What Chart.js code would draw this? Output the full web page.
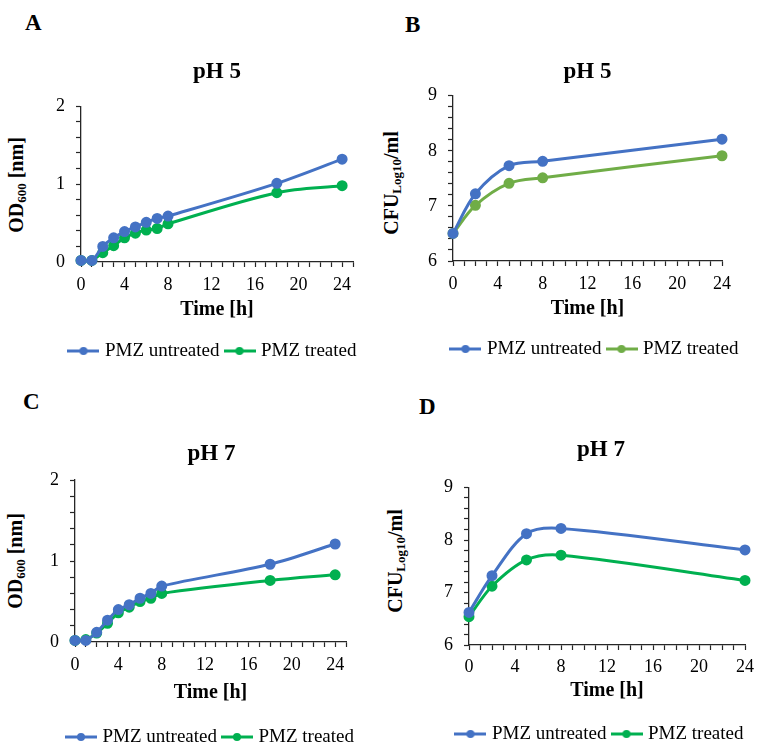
<!DOCTYPE html>
<html>
<head>
<meta charset="utf-8">
<script src="https://cdn.jsdelivr.net/npm/chart.js@4.4.1/dist/chart.umd.min.js"></script>
<style>
  html, body { margin: 0; padding: 0; background: #fff; }
  body { width: 767px; height: 748px; position: relative; overflow: hidden;
         font-family: "Liberation Serif", "Times New Roman", serif; color: #000; }
  .panel { position: absolute; }
  .letter { position: absolute; font-weight: bold; font-size: 23px; line-height: 1; }
  .ytitle { position: absolute; font-weight: bold; font-size: 20px; line-height: 1; white-space: nowrap;
            transform: translate(-50%, -50%) rotate(-90deg); }
  .ytitle sub { font-size: 13px; vertical-align: -3px; }
</style>
</head>
<body>
<div class="letter" style="left:25px;top:11px">A</div>
<div class="letter" style="left:405px;top:13px">B</div>
<div class="letter" style="left:23px;top:390px">C</div>
<div class="letter" style="left:419px;top:395px">D</div>

<div class="ytitle" style="left:17px;top:185px">OD<sub>600</sub> [nm]</div>
<div class="ytitle" style="left:392px;top:183px">CFU<sub>Log10</sub>/ml</div>
<div class="ytitle" style="left:16px;top:561px">OD<sub>600</sub> [nm]</div>
<div class="ytitle" style="left:396px;top:561px">CFU<sub>Log10</sub>/ml</div>

<canvas id="chartA" class="panel" width="384" height="374" style="left:0;top:0"></canvas>
<canvas id="chartB" class="panel" width="384" height="374" style="left:384px;top:0"></canvas>
<canvas id="chartC" class="panel" width="384" height="400" style="left:0;top:374px"></canvas>
<canvas id="chartD" class="panel" width="383" height="400" style="left:384px;top:374px"></canvas>

<script>
// sampling times (h)
const hoursOD = [0, 1, 2, 3, 4, 5, 6, 7, 8, 18, 24];
const hoursCFU = [0, 2, 5, 8, 24];

// A: OD600 at pH 5
const odPH5Untreated = [0.02, 0.02, 0.20, 0.31, 0.39, 0.45, 0.51, 0.56, 0.59, 1.01, 1.32];
const odPH5Treated   = [0.02, 0.02, 0.12, 0.21, 0.31, 0.37, 0.41, 0.43, 0.49, 0.89, 0.98];
// B: CFU at pH 5
const cfuPH5Untreated = [6.50, 7.22, 7.73, 7.81, 8.21];
const cfuPH5Treated   = [6.50, 7.01, 7.41, 7.51, 7.91];
// C: OD600 at pH 7
const odPH7Untreated = [0.02, 0.02, 0.12, 0.27, 0.40, 0.46, 0.54, 0.60, 0.69, 0.96, 1.21];
const odPH7Treated   = [0.02, 0.03, 0.11, 0.23, 0.36, 0.43, 0.50, 0.54, 0.60, 0.76, 0.83];
// D: CFU at pH 7
const cfuPH7Untreated = [6.62, 7.32, 8.12, 8.22, 7.81];
const cfuPH7Treated   = [6.54, 7.12, 7.62, 7.71, 7.23];

const seriesNames = ['PMZ untreated', 'PMZ treated'];
const xTickLabels = [0, 4, 8, 12, 16, 20, 24];
const odTickLabels = [0, 1, 2];
const cfuTickLabels = [6, 7, 8, 9];

const FONT = '"Liberation Serif", "Times New Roman", serif';
const BLUE = '#4472C4', GREEN = '#00B050', OLIVE = '#70AD47';
const AXIS = '#262626';

// legend marker: short line with a dot, like the Excel legend
function legendIcon(color) {
  const c = document.createElement('canvas');
  c.width = 32; c.height = 10;
  const g = c.getContext('2d');
  g.strokeStyle = color; g.lineWidth = 3;
  g.beginPath(); g.moveTo(0, 5); g.lineTo(32, 5); g.stroke();
  g.fillStyle = color;
  g.beginPath(); g.arc(16, 5, 4, 0, Math.PI * 2); g.fill();
  return c;
}

// major + minor tick positions
function stepTicks(min, max, step) {
  const out = [];
  for (let v = min; v <= max + 1e-9; v += step) out.push({ value: Math.round(v * 1000) / 1000 });
  return out;
}

function series(hours, vals, color, name) {
  return {
    label: name,
    data: hours.map((h, i) => ({ x: h, y: vals[i] })),
    borderColor: color,
    backgroundColor: color,
    pointBackgroundColor: color,
    pointBorderColor: color,
    pointRadius: 4,
    pointHoverRadius: 4,
    borderWidth: 3,
    tension: 0.33,
    clip: false
  };
}

function makeChart(p) {
  new Chart(document.getElementById(p.id), {
    type: 'line',
    data: {
      datasets: [
        series(p.hours, p.untreated, BLUE, seriesNames[0]),
        series(p.hours, p.treated, p.green, seriesNames[1])
      ]
    },
    options: {
      responsive: false,
      animation: false,
      events: [],
      layout: { padding: { left: p.padL, right: p.padR, top: 0, bottom: p.padB } },
      plugins: {
        tooltip: { enabled: false },
        title: {
          display: true, text: p.title, color: '#000', fullSize: p.titleFull,
          font: { family: FONT, size: 23, weight: 'bold', lineHeight: 1.2 },
          padding: { top: p.titleTop, bottom: p.titleBottom }
        },
        legend: {
          position: 'bottom', fullSize: true,
          labels: {
            usePointStyle: true, pointStyleWidth: 24, padding: 8, color: '#000',
            font: { family: FONT, size: 19 },
            generateLabels(chart) {
              const items = Chart.defaults.plugins.legend.labels.generateLabels(chart);
              return items.map(it => Object.assign(it, {
                pointStyle: legendIcon(chart.data.datasets[it.datasetIndex].borderColor)
              }));
            }
          }
        }
      },
      scales: {
        x: {
          type: 'linear', min: 0, max: p.xMax,
          afterBuildTicks: ax => { ax.ticks = stepTicks(0, p.xMax, 1); },
          ticks: {
            autoSkip: false, maxRotation: 0, padding: p.tickPad, color: '#000',
            font: { family: FONT, size: 18, lineHeight: 1 },
            callback: v => xTickLabels.includes(v) ? String(v) : ''
          },
          grid: { drawOnChartArea: false, drawTicks: true, tickLength: 5, color: AXIS, tickColor: AXIS, tickWidth: 1.2 },
          border: { display: true, color: AXIS, width: 1.3 },
          title: {
            display: true, text: 'Time [h]', color: '#000',
            font: { family: FONT, size: 20, weight: 'bold', lineHeight: 0.7 },
            padding: { top: p.xtTop, bottom: p.xtBottom }
          }
        },
        y: {
          type: 'linear', min: p.yMin, max: p.yMax,
          afterBuildTicks: ax => { ax.ticks = stepTicks(p.yMin, p.yMax, 0.2); },
          afterFit: ax => { ax.width = p.yW; },
          ticks: {
            autoSkip: false, padding: 11, color: '#000',
            font: { family: FONT, size: 18 },
            callback: v => p.yLabels.includes(v) ? String(v) : ''
          },
          grid: { drawOnChartArea: false, drawTicks: true, tickLength: 5, color: AXIS, tickColor: AXIS, tickWidth: 1.2 },
          border: { display: true, color: AXIS, width: 1.3 }
        },
        // empty right-hand spacer so the legend can run past the plot edge
        y2: {
          position: 'right', display: true,
          grid: { display: false, drawTicks: false },
          border: { display: false },
          ticks: { display: false },
          afterFit: ax => { ax.width = p.y2W; }
        }
      }
    }
  });
}

makeChart({ id: 'chartA', title: 'pH 5', hours: hoursOD, untreated: odPH5Untreated, treated: odPH5Treated,
  green: GREEN, xMax: 25, yMin: 0, yMax: 2, yLabels: odTickLabels,
  padL: 55, yW: 26, y2W: 20, padR: 11, padB: 3.5,
  titleTop: 58.6, titleBottom: 20, titleFull: false,
  tickPad: 9, xtTop: 0, xtBottom: 16.5 });
makeChart({ id: 'chartB', title: 'pH 5', hours: hoursCFU, untreated: cfuPH5Untreated, treated: cfuPH5Treated,
  green: OLIVE, xMax: 24, yMin: 6, yMax: 9, yLabels: cfuTickLabels,
  padL: 43, yW: 26, y2W: 43, padR: 3, padB: 5.5,
  titleTop: 58.6, titleBottom: 9.5, titleFull: false,
  tickPad: 9, xtTop: 0, xtBottom: 15.5 });
makeChart({ id: 'chartC', title: 'pH 7', hours: hoursOD, untreated: odPH7Untreated, treated: odPH7Treated,
  green: GREEN, xMax: 25, yMin: 0, yMax: 2, yLabels: odTickLabels,
  padL: 49, yW: 26, y2W: 28, padR: 10, padB: 17.5,
  titleTop: 65.9, titleBottom: 12.5, titleFull: true,
  tickPad: 9, xtTop: 3, xtBottom: 19.5 });
makeChart({ id: 'chartD', title: 'pH 7', hours: hoursCFU, untreated: cfuPH7Untreated, treated: cfuPH7Treated,
  green: GREEN, xMax: 24, yMin: 6, yMax: 9, yLabels: cfuTickLabels,
  padL: 59, yW: 26, y2W: 14, padR: 8, padB: 20.5,
  titleTop: 61.9, titleBottom: 24, titleFull: true,
  tickPad: 8, xtTop: 0, xtBottom: 18.5 });
</script>
</body>
</html>
